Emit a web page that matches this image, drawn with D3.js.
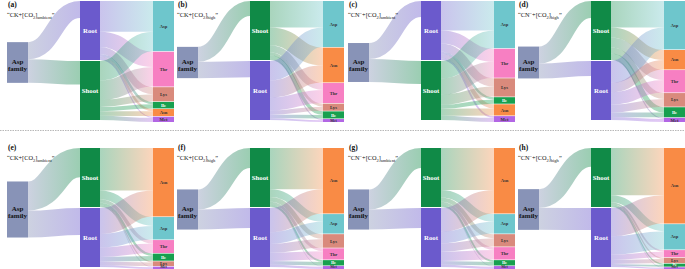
<!DOCTYPE html>
<html><head><meta charset="utf-8">
<script src="https://cdn.jsdelivr.net/npm/d3@7"></script>
<style>body{margin:0;background:#fff}svg{display:block}</style>
</head><body>
<svg id="c" width="685" height="269"></svg>
<script>
// ---------- data ----------
const panelLabels = ["(a)","(b)","(c)","(d)","(e)","(f)","(g)","(h)"];
const treatments = ["CK","CK","CN","CN","CK","CK","CN","CN"];
const co2Levels = ["ambient","high","ambient","high","ambient","high","ambient","high"];
const tissueOrder = [["Root","Shoot"],["Shoot","Root"],["Root","Shoot"],["Shoot","Root"],
                     ["Shoot","Root"],["Shoot","Root"],["Shoot","Root"],["Shoot","Root"]];
const aspFamilyTotal = [69,53,66,54,95,68,68,69];
const rootShare = [0.42,0.52,0.41,0.47,0.48,0.50,0.50,0.54];
const aminoAcids = ["Asp","Thr","Lys","Ile","Asn","Met"];
const rootPct = [
  [52,26,12,4,4,2],
  [33,22,7,6,29,3],
  [50,22,14,4,7,3],
  [37,21,13,8,16,5],
  [23,16,6,8,44,3],
  [20,14,15,6,41,4],
  [20,16,14,6,40,4],
  [31,9,7,3,48,2]
];
const shootPct = [
  [33,33,12,7,8,7],
  [45,12,5,6,30,2],
  [30,27,17,7,12,7],
  [45,17,10,9,17,2],
  [15,6,2,4,72,1],
  [13,5,8,3,70,1],
  [13,5,7,3,71,1],
  [12,3,2,2,80,1]
];
const aminoOrder = [
  ["Asp","Thr","Lys","Ile","Asn","Met"],
  ["Asp","Asn","Thr","Lys","Ile","Met"],
  ["Asp","Thr","Lys","Ile","Asn","Met"],
  ["Asp","Asn","Thr","Lys","Ile","Met"],
  ["Asn","Asp","Thr","Ile","Lys","Met"],
  ["Asn","Asp","Lys","Thr","Ile","Met"],
  ["Asn","Asp","Lys","Thr","Ile","Met"],
  ["Asn","Asp","Thr","Lys","Ile","Met"]
];

// ---------- style ----------
const colors = {"Asp family":"#8893b7", Root:"#6b5acc", Shoot:"#108a47",
  Asp:"#6ec6cc", Thr:"#f77fc2", Lys:"#d98a7c", Ile:"#17a04f", Asn:"#f98b45", Met:"#b266e4"};
const labelFill = {Asp:"#333", Thr:"#333", Lys:"#333", Ile:"#fff", Asn:"#333", Met:"#333"};
const serif = "'Liberation Serif','Times New Roman',serif";

const svg = d3.select("#c");
const defs = svg.append("defs");
const panelX = d3.scaleOrdinal().domain([0,1,2,3]).range([0,170,341,511]);
const rowY = d3.scaleOrdinal().domain([0,1]).range([1,148]);
const colX = d3.scaleOrdinal().domain(["src","mid","dst"]).range([7,80,153]);
const colW = {src:21, mid:20, dst:21};
const colH = 119;
const v = d3.scaleLinear().domain([0,100]).range([0,(colH-1)/2]);
const link = d3.linkHorizontal();
let gid = 0;

function grad(x0,x1,c0,c1){
  const id = "g"+(gid++);
  const g = defs.append("linearGradient").attr("id",id)
    .attr("gradientUnits","userSpaceOnUse").attr("x1",x0).attr("x2",x1).attr("y1",0).attr("y2",0);
  g.append("stop").attr("offset","0%").attr("stop-color",c0);
  g.append("stop").attr("offset","100%").attr("stop-color",c1);
  return "url(#"+id+")";
}

svg.append("line").attr("x1",0).attr("x2",685).attr("y1",130.5).attr("y2",130.5)
  .attr("stroke","#888").attr("stroke-width",0.6).attr("stroke-dasharray","1.5,1");

for(let i=0;i<8;i++){
  const ox = panelX(i%4), oy = rowY(Math.floor(i/4));
  const g = svg.append("g").attr("transform",`translate(${ox},${oy})`);
  const linkG = g.append("g"), nodeG = g.append("g");
  const xs = colX("src"), xm = colX("mid"), xd = colX("dst");

  // middle nodes
  const mids = {};
  let y = 0;
  tissueOrder[i].forEach(t=>{
    const h = v(100);
    mids[t] = {y0:y, y1:y+h};
    y += h + 1;
  });
  // source node (centred)
  const hs = v(aspFamilyTotal[i]);
  const src = {y0: 61.5 - hs/2, y1: 61.5 + hs/2};
  let sOff = src.y0;
  tissueOrder[i].forEach(t=>{
    const share = t==="Root" ? rootShare[i] : 1-rootShare[i];
    const w = hs*share;
    const yS = sOff + w/2, yT = mids[t].y0 + w/2;
    sOff += w;
    linkG.append("path").attr("d", link({source:[xs+colW.src, yS], target:[xm, yT]}))
      .attr("fill","none").attr("stroke", grad(xs+colW.src, xm, colors["Asp family"], colors[t]))
      .attr("stroke-opacity",0.42).attr("stroke-width",w);
  });

  // destination nodes
  const dst = {};
  y = 0;
  aminoOrder[i].forEach(a=>{
    const k = aminoAcids.indexOf(a);
    const h = v(rootPct[i][k] + shootPct[i][k]);
    dst[a] = {y0:y, y1:y+h, off:y};
    y += h + 0.6;
  });
  tissueOrder[i].forEach(t=>{
    let off = mids[t].y0;
    aminoOrder[i].forEach(a=>{
      const k = aminoAcids.indexOf(a);
      const val = t==="Root" ? rootPct[i][k] : shootPct[i][k];
      const w = v(val);
      const yS = off + w/2; off += w;
      const yT = dst[a].off + w/2; dst[a].off += w;
      linkG.append("path").attr("d", link({source:[xm+colW.mid, yS], target:[xd, yT]}))
        .attr("fill","none").attr("stroke", grad(xm+colW.mid, xd, colors[t], colors[a]))
        .attr("stroke-opacity",0.36).attr("stroke-width",w);
    });
  });

  // nodes
  nodeG.append("rect").attr("x",xs).attr("y",src.y0).attr("width",colW.src).attr("height",hs)
    .attr("fill",colors["Asp family"]);
  const cx = xs + colW.src/2, cy = (src.y0+src.y1)/2;
  nodeG.append("text").attr("x",cx).attr("y",cy+1).attr("text-anchor","middle")
    .attr("font-family",serif).attr("font-weight","bold").attr("font-size",7).attr("fill","#111").text("Asp");
  nodeG.append("text").attr("x",cx).attr("y",cy+8.5).attr("text-anchor","middle")
    .attr("font-family",serif).attr("font-weight","bold").attr("font-size",7).attr("fill","#111").text("family");

  tissueOrder[i].forEach(t=>{
    const m = mids[t];
    nodeG.append("rect").attr("x",xm).attr("y",m.y0).attr("width",colW.mid).attr("height",m.y1-m.y0)
      .attr("fill",colors[t]);
    nodeG.append("text").attr("x",xm+colW.mid/2).attr("y",(m.y0+m.y1)/2+2.4).attr("text-anchor","middle")
      .attr("font-family",serif).attr("font-weight","bold").attr("font-size",6.8).attr("fill","#fff").text(t);
  });
  const maxBase = 269 - oy - 1.2;
  aminoOrder[i].forEach(a=>{
    const d = dst[a];
    const h = d.y1-d.y0;
    const fs = h < 3.5 ? 3.8 : 4.6;
    nodeG.append("rect").attr("x",xd).attr("y",d.y0).attr("width",colW.dst).attr("height",Math.max(0.5,h))
      .attr("fill",colors[a]);
    nodeG.append("text").attr("x",xd+colW.dst/2).attr("y",Math.min(maxBase,(d.y0+d.y1)/2+fs*0.35))
      .attr("text-anchor","middle")
      .attr("font-family",serif).attr("font-weight","bold").attr("font-size",fs).attr("fill",labelFill[a]).text(a);
  });

  // panel label & title
  const lblY = i<4 ? 6 : 2;
  g.append("text").attr("x",8).attr("y",lblY).attr("font-family",serif).attr("font-weight","bold")
    .attr("font-size",7.5).attr("fill","#111").text(panelLabels[i]);
  const tt = g.append("text").attr("x",7).attr("y",lblY+10).attr("font-family",serif)
    .attr("font-size",6.3).attr("fill","#111");
  tt.append("tspan").text("\u201C" + treatments[i]);
  if(treatments[i]==="CN"){
    tt.append("tspan").attr("dy",-2).attr("font-size",4.5).text("\u2212");
    tt.append("tspan").attr("dy",2).text("+[CO");
  } else tt.append("tspan").text("+[CO");
  tt.append("tspan").attr("dy",1.8).attr("font-size",4.5).text("2");
  tt.append("tspan").attr("dy",-1.8).text("]");
  tt.append("tspan").attr("dy",1.8).attr("font-size",4.5).text(co2Levels[i]);
  tt.append("tspan").attr("dy",-1.8).text("\u201D");
}
</script>
</body></html>
